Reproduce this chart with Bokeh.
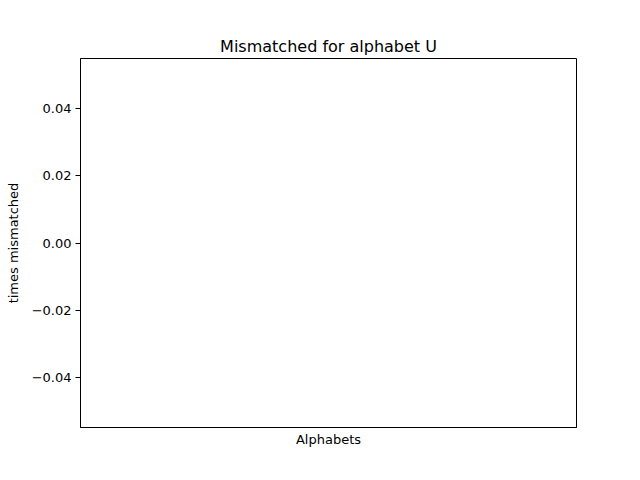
from bokeh.plotting import figure
from bokeh.models import ColumnDataSource, FixedTicker, CustomJSTickFormatter, Range1d
from bokeh.embed import file_html
from bokeh.resources import INLINE

# Data (the reference chart is empty: no mismatches recorded for "U")
alphabets = []
mismatch_counts = []
y_ticks = [-0.04, -0.02, 0.0, 0.02, 0.04]

source = ColumnDataSource(data=dict(x=list(range(len(alphabets))), top=mismatch_counts))

FONT = "DejaVu Sans"

p = figure(width=640, height=480, output_backend="svg", toolbar_location=None,
           x_range=Range1d(-0.5, 0.5), y_range=Range1d(-0.055, 0.055),
           title="Mismatched for alphabet U",
           min_border_left=80, min_border_right=64, min_border_top=58, min_border_bottom=53)

p.vbar(x="x", top="top", width=0.8, source=source, color="#1f77b4")

p.title.align = "center"
p.title.text_font = FONT
p.title.text_font_size = "16px"
p.title.text_font_style = "normal"
p.title.text_color = "black"
p.title.offset = 0
p.title.standoff = 6

p.xgrid.visible = False
p.ygrid.visible = False
p.outline_line_color = "black"
p.outline_line_alpha = 1
p.outline_line_width = 1
p.background_fill_color = "white"
p.border_fill_color = "white"

# x axis: no ticks
p.xaxis.ticker = FixedTicker(ticks=[])
p.xaxis.axis_label = "Alphabets"
p.xaxis.axis_label_text_font = FONT
p.xaxis.axis_label_text_font_size = "13px"
p.xaxis.axis_label_text_font_style = "normal"
p.xaxis.axis_label_text_color = "black"
p.xaxis.axis_label_standoff = 4
p.xaxis.axis_line_color = "black"
p.xaxis.minor_tick_line_color = None

# y axis
p.yaxis.ticker = FixedTicker(ticks=y_ticks)
p.yaxis.formatter = CustomJSTickFormatter(code="""
    const v = Math.abs(tick) < 1e-12 ? 0 : tick;
    return (v < 0 ? "\u2212" : "") + Math.abs(v).toFixed(2);
""")
p.yaxis.axis_label = "times mismatched"
p.yaxis.axis_label_text_font = FONT
p.yaxis.axis_label_text_font_size = "13px"
p.yaxis.axis_label_text_font_style = "normal"
p.yaxis.axis_label_text_color = "black"
p.yaxis.axis_label_standoff = 8
p.yaxis.major_label_text_font = FONT
p.yaxis.major_label_text_font_size = "13px"
p.yaxis.major_label_text_color = "black"
p.yaxis.major_label_standoff = 4
p.yaxis.major_tick_out = 5
p.yaxis.major_tick_in = 0
p.yaxis.minor_tick_line_color = None
p.yaxis.axis_line_color = "black"
p.yaxis.major_tick_line_color = "black"

open("out.html", "w").write(file_html(p, INLINE))
